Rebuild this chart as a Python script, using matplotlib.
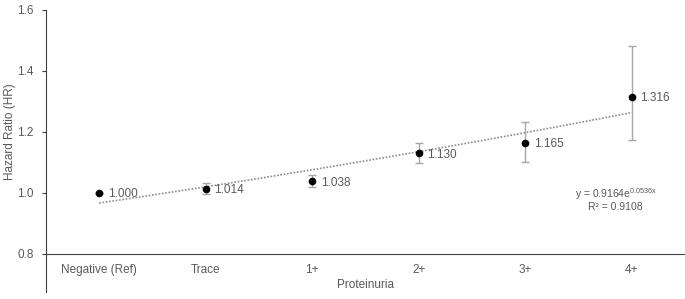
import matplotlib
matplotlib.use("Agg")
import matplotlib.pyplot as plt
import numpy as np

# data
categories = ["Negative (Ref)", "Trace", "1+", "2+", "3+", "4+"]
hr = [1.000, 1.014, 1.038, 1.130, 1.165, 1.316]
ci_low = [1.000, 0.997, 1.019, 1.099, 1.103, 1.173]
ci_high = [1.000, 1.031, 1.058, 1.164, 1.232, 1.482]

plt.rcParams["font.family"] = ["Liberation Sans", "DejaVu Sans"]
plt.rcParams["mathtext.fontset"] = "custom"
plt.rcParams["mathtext.rm"] = "Liberation Sans"

grey = "#595959"

fig = plt.figure(figsize=(6.85, 2.99), dpi=100)
ax = fig.add_axes([46 / 685, 7 / 299, 1 - 46 / 685, 282 / 299])

x = np.arange(len(categories))
hr_arr = np.array(hr)
yerr = [hr_arr - np.array(ci_low), np.array(ci_high) - hr_arr]

# exponential trendline fitted on the data (Excel style)
b, a = np.polyfit(x + 1, np.log(hr_arr), 1)
xt = np.linspace(1, len(categories), 50)
ax.plot(xt - 1, np.exp(a) * np.exp(b * xt), linestyle=(0, (1, 1)),
        color="#8c8c8c", linewidth=1.2, zorder=1)

ax.errorbar(x, hr_arr, yerr=yerr, fmt="none", ecolor="#a6a6a6",
            elinewidth=1, capsize=3, capthick=1, zorder=2)
ax.plot(x, hr_arr, "o", color="black", markersize=4.5, zorder=3)

for xi, v in zip(x, hr):
    ax.annotate("%.3f" % v, (xi, v), xytext=(6, -1), textcoords="offset points",
                fontsize=8.5, color=grey, va="center")

ax.text(4.85, 0.995, r"y = 0.9164e$^{\mathregular{0.0536x}}$", fontsize=7.5,
        color=grey, ha="center", va="center")
ax.text(4.85, 0.955, "R² = 0.9108", fontsize=7.5, color=grey,
        ha="center", va="center")

ax.set_xlim(-0.5, len(categories) - 0.5)
ax.set_ylim(0.675, 1.6)
ax.set_yticks([0.8, 1.0, 1.2, 1.4, 1.6])
ax.set_yticklabels(["0.8", "1.0", "1.2", "1.4", "1.6"])
ax.set_xticks(x)
ax.set_xticklabels(categories)

ax.spines["top"].set_visible(False)
ax.spines["right"].set_visible(False)
ax.spines["bottom"].set_position(("data", 0.8))
ax.spines["left"].set_color("#404040")
ax.spines["bottom"].set_color("#404040")
ax.tick_params(axis="x", length=0, labelsize=8.5, labelcolor=grey, pad=7)
ax.tick_params(axis="y", length=3, direction="out", labelsize=8.5,
               labelcolor=grey, color="#404040", pad=6)

ax.set_xlabel("Proteinuria", fontsize=8.5, color=grey)
ax.xaxis.set_label_coords(0.5, 0.046)
ax.set_ylabel("Hazard Ratio (HR)", fontsize=8.5, color=grey)
ax.yaxis.set_label_coords(-0.047, (1.2 - 0.675) / 0.925)

fig.savefig("out.png", dpi=100)
